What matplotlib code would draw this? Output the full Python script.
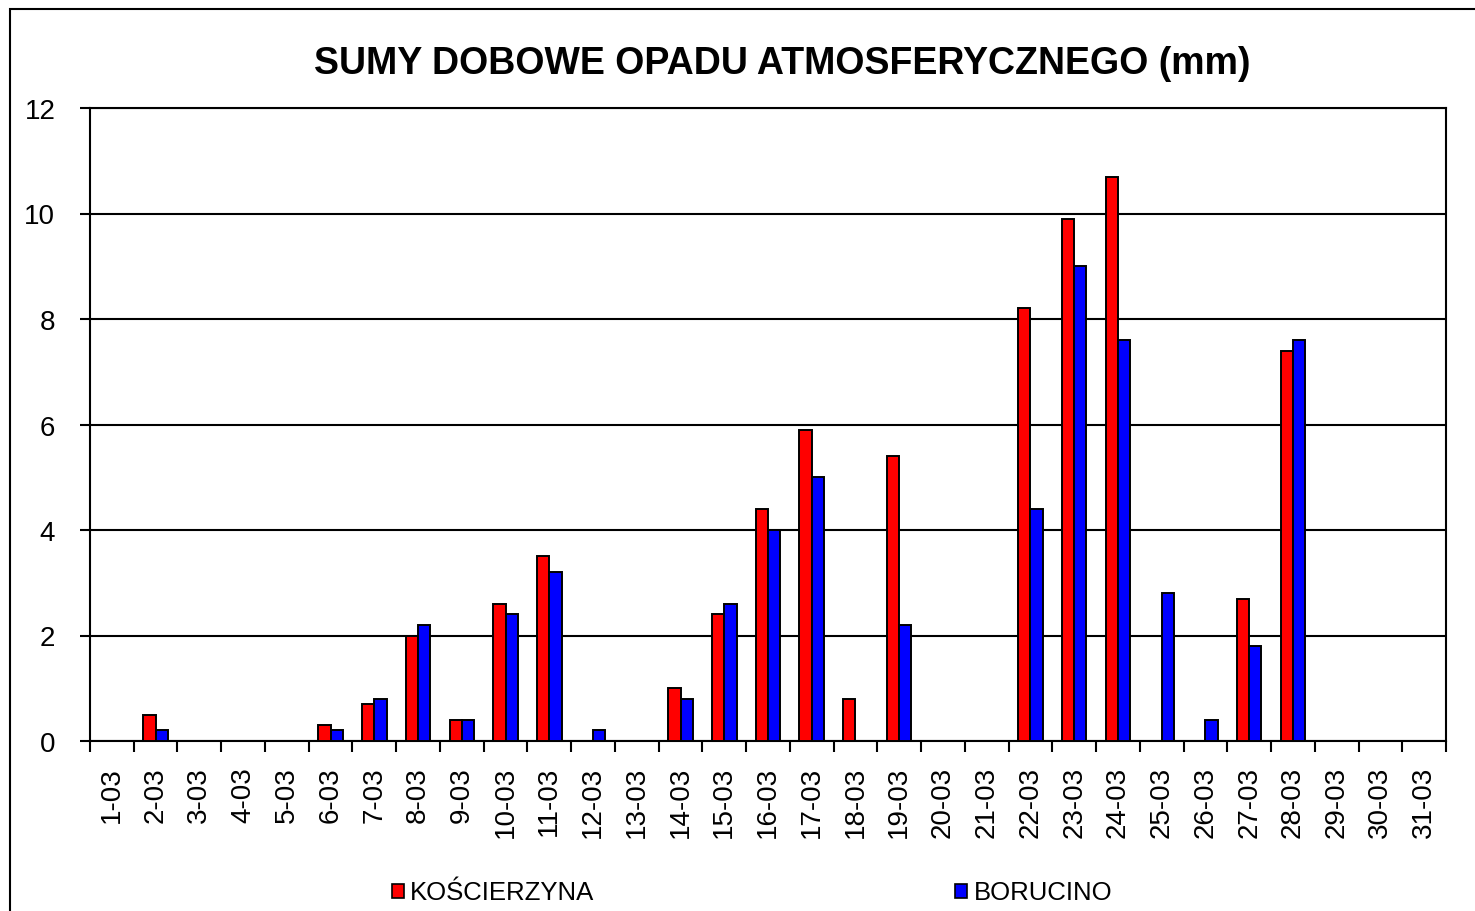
import numpy as np
import matplotlib.pyplot as plt
from matplotlib.patches import Rectangle

plt.rcParams['font.family'] = ['Liberation Sans', 'DejaVu Sans']

days = [f"{d}-03" for d in range(1, 32)]
koscierzyna = [0, 0.5, 0, 0, 0, 0.3, 0.7, 2.0, 0.4, 2.6, 3.5, 0, 0, 1.0, 2.4, 4.4,
               5.9, 0.8, 5.4, 0, 0, 8.2, 9.9, 10.7, 0, 0, 2.7, 7.4, 0, 0, 0]
borucino = [0, 0.2, 0, 0, 0, 0.2, 0.8, 2.2, 0.4, 2.4, 3.2, 0.2, 0, 0.8, 2.6, 4.0,
            5.0, 0, 2.2, 0, 0, 4.4, 9.0, 7.6, 2.8, 0.4, 1.8, 7.6, 0, 0, 0]

fig = plt.figure(figsize=(14.75, 9.12), dpi=100)
ax = fig.add_axes([90/1475, 170/912, (1446-90)/1475, (742-109)/912])

x = np.arange(len(days))
w = 0.28
ax.bar(x - w/2, koscierzyna, w, color="#ff0000", edgecolor="black", linewidth=1.4, label="KOŚCIERZYNA", zorder=3)
ax.bar(x + w/2, borucino, w, color="#0000ff", edgecolor="black", linewidth=1.4, label="BORUCINO", zorder=3)

ax.set_xlim(-0.5, len(days) - 0.5)
ax.set_ylim(0, 12)
ax.set_yticks(np.arange(0, 13, 2))
ax.yaxis.grid(True, color="black", linewidth=1.5, zorder=0)
ax.set_axisbelow(True)

# ticks at category boundaries, labels at centers
ax.set_xticks(np.arange(-0.5, len(days), 1.0))
ax.set_xticklabels([])
ax.set_xticks(x, minor=True)
ax.set_xticklabels(days, minor=True, rotation=90, fontsize=20)
ax.tick_params(axis="x", which="major", direction="out", length=8, width=1.5)
ax.tick_params(axis="x", which="minor", length=0, pad=18)
ax.tick_params(axis="y", direction="out", length=7, width=1.5, labelsize=20, pad=18)
for s in ax.spines.values():
    s.set_linewidth(1.5)

fig.text(782/1475, 1 - 64/912, "SUMY DOBOWE OPADU ATMOSFERYCZNEGO (mm)", fontsize=27,
         fontweight="bold", ha="center", va="center")

# legend entries placed like the original
fig.patches.append(Rectangle((392/1475, 1 - 899/912), 12/1475, 14/912, transform=fig.transFigure,
                             facecolor="#ff0000", edgecolor="black", linewidth=1.2))
fig.text(410/1475, 1 - 893/912, "KOŚCIERZYNA", fontsize=18.5, ha="left", va="center")
fig.patches.append(Rectangle((955/1475, 1 - 899/912), 12/1475, 14/912, transform=fig.transFigure,
                             facecolor="#0000ff", edgecolor="black", linewidth=1.2))
fig.text(974/1475, 1 - 893/912, "BORUCINO", fontsize=18.5, ha="left", va="center")

# outer chart border
fig.patches.append(Rectangle((10/1475, -0.05), 1.1, 1 - 10/912 + 0.05, transform=fig.transFigure,
                             facecolor="none", edgecolor="black", linewidth=1.5))

fig.savefig("out.png", dpi=100)
